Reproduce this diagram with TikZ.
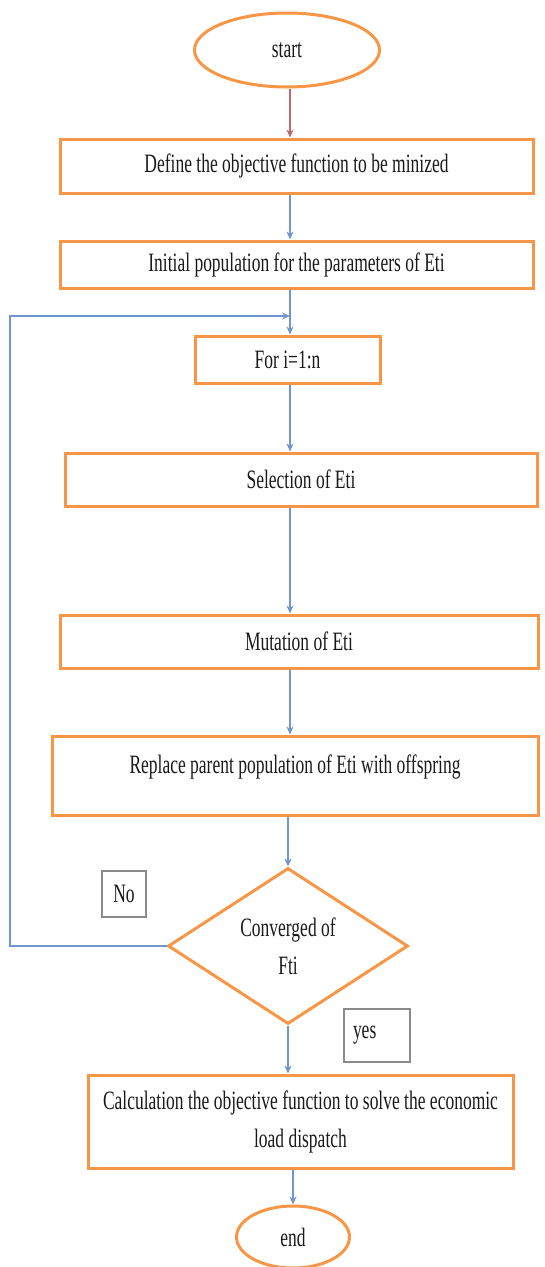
\documentclass[tikz,border=0pt]{standalone}
\usepackage{fontspec}
\setmainfont[FakeStretch=0.66]{Liberation Serif}
\usepackage{xcolor}
\usepackage{tikz}
\usetikzlibrary{shapes.geometric,arrows.meta}

\definecolor{boxorange}{HTML}{F79646}
\definecolor{flowblue}{HTML}{6F97CC}
\definecolor{flowred}{HTML}{B76A6A}
\definecolor{taggray}{HTML}{8A8A8A}

\begin{document}
\begin{tikzpicture}[x=1pt,y=-1pt,
    every node/.append style={font=\fontsize{26.5}{38}\selectfont, text=black!90},
    procbox/.style={draw=boxorange, line width=3pt, rectangle, inner sep=0pt},
    termbox/.style={draw=boxorange, line width=3pt, ellipse, inner sep=0pt},
    decbox/.style={draw=boxorange, line width=3pt, diamond, inner sep=0pt, align=center},
    tagbox/.style={draw=taggray, line width=1.3pt, rectangle, inner sep=0pt},
    flow/.style={draw=flowblue, line width=1.5pt, -{Stealth[length=8pt,width=7pt]}},
    flowfirst/.style={flow, draw=flowred}]
    \useasboundingbox (0,0) rectangle (544,1267);
    \coordinate (axis) at (290,0);
    \coordinate (leftx) at (10,0);
    \coordinate (merge) at (290,316);

    \node[termbox, minimum width=185, minimum height=74] (start) at (287,50) {start};
    \node[procbox, minimum width=473, minimum height=54] (def) at (296.5,166) {Define the objective function to be minized};
    \node[procbox, minimum width=473, minimum height=47] (init) at (296.5,264.5) {Initial population for the parameters of Eti};
    \node[procbox, minimum width=185, minimum height=47] (fori) at (287.5,359.5) {For i=1:n};
    \node[procbox, minimum width=472, minimum height=53] (sel) at (301,479.5) {Selection of Eti};
    \node[procbox, minimum width=478, minimum height=53] (mut) at (299,641.5) {Mutation of Eti};
    \node[procbox, minimum width=486, text height=37, text depth=42] (repl) at (295,775.5) {Replace parent population of Eti with offspring};
    \node[decbox, minimum width=240, minimum height=156] (dec) at (288,946) {Converged of\\Fti};
    \node[tagbox, minimum width=44, minimum height=46] (no) at (124,894) {No};
    \node[tagbox, minimum height=53, text width=48, inner xsep=9pt, align=left] (yes) at (377,1035.5) {yes};
    \node[procbox, minimum width=425, minimum height=93, align=center] (calc) at (300.5,1121.5) {Calculation the objective function to solve the economic\\load dispatch};
    \node[termbox, minimum width=113, minimum height=62] (end) at (293,1237) {end};

    % main line
    \draw[flowfirst] (start.south -| axis) -- (def.north -| axis);
    \draw[flow] (def.south -| axis) -- (init.north -| axis);
    \draw[flow] (init.south -| axis) -- (fori.north -| axis);
    \draw[flow] (fori.south -| axis) -- (sel.north -| axis);
    \draw[flow] (sel.south -| axis) -- (mut.north -| axis);
    \draw[flow] (mut.south -| axis) -- (repl.north -| axis);
    \draw[flow] (repl.south -| dec.north) -- (dec.north);
    \draw[flow] (dec.south) -- (calc.north -| dec.south);
    \draw[flow] (calc.south -| end.north) -- (end.north);

    % back to the loop
    \draw[flow] (dec.west) -| (leftx |- merge) -- (merge);
\end{tikzpicture}
\end{document}
